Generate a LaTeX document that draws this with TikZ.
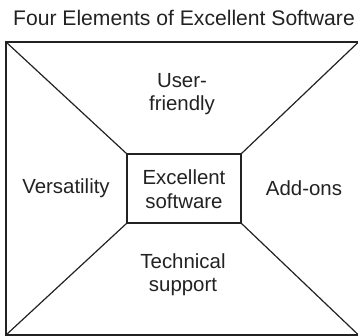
\documentclass[tikz,border=0pt]{standalone}
\usepackage{fontspec}
\setmainfont{Liberation Sans}
\definecolor{ink}{HTML}{222222}
\begin{document}
\begin{tikzpicture}[x=1bp,y=-1bp,
  edge/.style={draw=ink,line width=1.2bp},
  lbl/.style={inner sep=0pt,align=center,text=ink,font=\fontsize{20.5}{23.5}\selectfont},
  ttl/.style={inner sep=0pt,text=ink,font=\fontsize{21.2}{24}\selectfont}]
\useasboundingbox (0,0) rectangle (358,336);
\coordinate (otl) at (6,42);
\coordinate (otr) at (358.5,42);
\coordinate (obr) at (358.5,335);
\coordinate (obl) at (6,335);
\coordinate (itl) at (127,154);
\coordinate (itr) at (241,154);
\coordinate (ibr) at (241,223);
\coordinate (ibl) at (127,223);
\draw[edge] (otl) -- (otr) -- (obr) -- (obl) -- cycle;
\draw[edge] (itl) -- (itr) -- (ibr) -- (ibl) -- cycle;
\draw[edge] (otl) -- (itl);
\draw[edge] (otr) -- (itr);
\draw[edge] (obr) -- (ibr);
\draw[edge] (obl) -- (ibl);
\node[ttl] (title) at (184,18) {Four Elements of Excellent Software};
\node[lbl] (user) at (182,94) {User-\\friendly};
\node[lbl] (core) at (184,189) {Excellent\\software};
\node[lbl] (vers) at (66,188) {Versatility};
\node[lbl] (add) at (304,188) {Add-ons};
\node[lbl] (tech) at (183,275) {Technical\\support};
\end{tikzpicture}
\end{document}
